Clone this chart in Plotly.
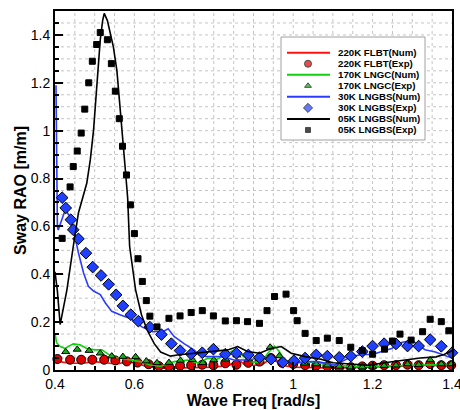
import plotly.graph_objects as go

# ---- sway RAO data: frequency [rad/s] and RAO [m/m] ----
# 220K FLBT
flbt_num_f = [0.400, 0.410, 0.438, 0.472, 0.497, 0.527, 0.557, 0.581, 0.606, 0.632, 0.666, 0.700,
              0.750, 0.800, 0.840, 0.860, 0.880, 0.920, 0.950, 0.970, 1.000, 1.050, 1.100, 1.150,
              1.200, 1.250, 1.300, 1.350, 1.400]
flbt_num_v = [0.042, 0.035, 0.028, 0.028, 0.035, 0.031, 0.025, 0.035, 0.028, 0.014, 0.007, 0.008,
              0.010, 0.012, 0.020, 0.045, 0.020, 0.020, 0.055, 0.020, 0.012, 0.010, 0.008, 0.010,
              0.012, 0.015, 0.015, 0.020, 0.018]
flbt_exp_f = [0.406, 0.438, 0.466, 0.494, 0.524, 0.552, 0.581, 0.608, 0.636, 0.662, 0.687, 0.715,
              0.743, 0.771, 0.799, 0.829, 0.857, 0.887, 0.915, 0.944, 0.972, 1.000, 1.030, 1.058,
              1.086, 1.116, 1.145, 1.174, 1.200, 1.229, 1.259, 1.288, 1.316, 1.345, 1.373, 1.398]
flbt_exp_v = [0.046, 0.043, 0.043, 0.043, 0.043, 0.040, 0.036, 0.031, 0.024, 0.016, 0.015, 0.018,
              0.020, 0.022, 0.020, 0.028, 0.022, 0.030, 0.035, 0.050, 0.030, 0.025, 0.020, 0.018,
              0.015, 0.012, 0.012, 0.015, 0.018, 0.020, 0.020, 0.022, 0.020, 0.025, 0.020, 0.020]

# 170K LNGC
lngc_num_f = [0.400, 0.404, 0.413, 0.425, 0.446, 0.463, 0.480, 0.501, 0.518, 0.531, 0.543, 0.565,
              0.590, 0.615, 0.640, 0.666, 0.687, 0.700, 0.733, 0.763, 0.784, 0.809, 0.835, 0.856,
              0.873, 0.894, 0.919, 0.936, 0.953, 0.965, 0.978, 1.003, 1.037, 1.062, 1.105, 1.150,
              1.200, 1.250, 1.300, 1.350, 1.400]
lngc_num_v = [0.153, 0.114, 0.098, 0.090, 0.109, 0.105, 0.090, 0.084, 0.084, 0.070, 0.056, 0.049,
              0.042, 0.035, 0.021, 0.016, 0.028, 0.035, 0.042, 0.028, 0.049, 0.045, 0.070, 0.087,
              0.059, 0.035, 0.031, 0.070, 0.100, 0.077, 0.042, 0.028, 0.035, 0.028, 0.021, 0.014,
              0.015, 0.018, 0.020, 0.022, 0.020]
lngc_exp_f = [0.427, 0.456, 0.486, 0.514, 0.543, 0.571, 0.603, 0.630, 0.657, 0.687, 0.716, 0.746,
              0.772, 0.800, 0.830, 0.858, 0.887, 0.915, 0.942, 0.965, 0.999, 1.029, 1.058, 1.086,
              1.116, 1.145, 1.174, 1.200, 1.229, 1.259, 1.288, 1.316, 1.345, 1.373, 1.398]
lngc_exp_v = [0.076, 0.086, 0.081, 0.070, 0.058, 0.056, 0.055, 0.037, 0.030, 0.031, 0.040, 0.043,
              0.030, 0.042, 0.045, 0.062, 0.045, 0.056, 0.095, 0.059, 0.039, 0.028, 0.025, 0.020,
              0.015, 0.012, 0.012, 0.015, 0.018, 0.020, 0.025, 0.022, 0.042, 0.025, 0.025]

# 30K LNGBS
b30_num_f = [0.4025, 0.404, 0.406, 0.408, 0.417, 0.424, 0.430, 0.438, 0.450, 0.459, 0.472, 0.484,
             0.497, 0.514, 0.527, 0.543, 0.565, 0.590, 0.619, 0.645, 0.674, 0.685, 0.700, 0.725,
             0.750, 0.763, 0.784, 0.820, 0.851, 0.885, 0.915, 0.944, 0.970, 1.000, 1.037, 1.062,
             1.105, 1.130, 1.147, 1.172, 1.200, 1.223, 1.248, 1.273, 1.300, 1.310, 1.332, 1.358,
             1.383, 1.400]
b30_num_v = [1.190, 0.850, 0.600, 0.585, 0.630, 0.660, 0.660, 0.640, 0.560, 0.490, 0.405, 0.350,
             0.330, 0.315, 0.280, 0.245, 0.230, 0.215, 0.180, 0.160, 0.162, 0.172, 0.140, 0.110,
             0.084, 0.063, 0.056, 0.056, 0.042, 0.042, 0.050, 0.042, 0.030, 0.030, 0.035, 0.035,
             0.020, 0.042, 0.056, 0.065, 0.065, 0.077, 0.090, 0.115, 0.124, 0.110, 0.085, 0.075,
             0.062, 0.050]
b30_exp_f = [0.418, 0.427, 0.440, 0.446, 0.459, 0.478, 0.495, 0.516, 0.535, 0.554, 0.571, 0.591,
             0.610, 0.639, 0.668, 0.693, 0.715, 0.743, 0.771, 0.799, 0.829, 0.857, 0.887, 0.915,
             0.944, 0.974, 1.002, 1.030, 1.058, 1.086, 1.116, 1.145, 1.174, 1.200, 1.229, 1.259,
             1.288, 1.316, 1.345, 1.373, 1.400]
b30_exp_v = [0.720, 0.677, 0.628, 0.586, 0.548, 0.488, 0.430, 0.395, 0.358, 0.314, 0.268, 0.231,
             0.204, 0.179, 0.148, 0.110, 0.081, 0.067, 0.072, 0.087, 0.066, 0.070, 0.063, 0.052,
             0.045, 0.032, 0.039, 0.050, 0.063, 0.058, 0.053, 0.058, 0.077, 0.100, 0.110, 0.109,
             0.100, 0.100, 0.127, 0.099, 0.072]

# 05K LNGBS
b05_num_f = [0.400, 0.406, 0.413, 0.419, 0.430, 0.446, 0.459, 0.480, 0.489, 0.497, 0.505, 0.514,
             0.520, 0.524, 0.532, 0.540, 0.547, 0.556, 0.563, 0.570, 0.577, 0.583, 0.588, 0.603,
             0.618, 0.632, 0.650, 0.666, 0.691, 0.708, 0.750, 0.792, 0.835, 0.860, 0.885, 0.915,
             0.944, 0.970, 0.995, 1.030, 1.070, 1.100, 1.150, 1.190, 1.230, 1.270, 1.320, 1.360,
             1.380, 1.400]
b05_num_v = [0.410, 0.330, 0.190, 0.240, 0.335, 0.516, 0.656, 0.780, 0.879, 1.000, 1.200, 1.380,
             1.460, 1.490, 1.460, 1.400, 1.350, 1.250, 1.120, 1.000, 0.840, 0.720, 0.516, 0.335,
             0.230, 0.167, 0.110, 0.075, 0.058, 0.063, 0.070, 0.077, 0.084, 0.098, 0.077, 0.070,
             0.090, 0.098, 0.070, 0.056, 0.045, 0.030, 0.025, 0.020, 0.030, 0.040, 0.050, 0.055,
             0.065, 0.080]
b05_exp_f = [0.418, 0.438, 0.446, 0.456, 0.466, 0.475, 0.485, 0.494, 0.505, 0.514, 0.532, 0.542,
             0.552, 0.562, 0.570, 0.580, 0.590, 0.600, 0.609, 0.620, 0.630, 0.639, 0.657, 0.687,
             0.715, 0.743, 0.771, 0.799, 0.829, 0.857, 0.885, 0.915, 0.934, 0.953, 0.982, 1.001,
             1.010, 1.030, 1.058, 1.086, 1.116, 1.145, 1.174, 1.200, 1.230, 1.250, 1.269, 1.297,
             1.326, 1.345, 1.373, 1.392]
b05_exp_v = [0.550, 0.765, 0.850, 0.915, 0.990, 1.090, 1.200, 1.290, 1.360, 1.410, 1.380, 1.280,
             1.165, 1.050, 0.935, 0.815, 0.690, 0.570, 0.465, 0.370, 0.290, 0.225, 0.180, 0.216,
             0.226, 0.240, 0.248, 0.226, 0.205, 0.206, 0.202, 0.195, 0.248, 0.307, 0.317, 0.248,
             0.206, 0.153, 0.123, 0.133, 0.123, 0.095, 0.081, 0.066, 0.087, 0.121, 0.150, 0.125,
             0.160, 0.212, 0.202, 0.164]

x_ticks = [0.4, 0.6, 0.8, 1.0, 1.2, 1.4]
x_tick_text = ["0.4", "0.6", "0.8", "1", "1.2", "1.4"]
y_ticks = [0, 0.2, 0.4, 0.6, 0.8, 1.0, 1.2, 1.4]
y_tick_text = ["0", "0.2", "0.4", "0.6", "0.8", "1", "1.2", "1.4"]
grid_step = 0.05

legend_names = ["220K FLBT(Num)", "220K FLBT(Exp)", "170K LNGC(Num)", "170K LNGC(Exp)",
                "30K LNGBS(Num)", "30K LNGBS(Exp)", "05K LNGBS(Num)", "05K LNGBS(Exp)"]

RED, GREEN, BLUE, BLACK = "#ff1010", "#10d010", "#2b3cff", "#000000"
GRID = "#c4c4c4"
FONT = "Liberation Sans, Arial, sans-serif"

# style per legend entry: (kind, colour, symbol, plot size, fill, legend size)
styles = [
    ("line", RED, None, None, None, None),
    ("marker", RED, "circle", 9, "#e00000", 7),
    ("line", GREEN, None, None, None, None),
    ("marker", GREEN, "triangle-up", 7, "#10b010", 6),
    ("line", BLUE, None, None, None, None),
    ("marker", BLUE, "diamond", 9, "#2040ff", 7),
    ("line", BLACK, None, None, None, None),
    ("marker", BLACK, "square", 6, "#000000", 5),
]
series = [(flbt_num_f, flbt_num_v), (flbt_exp_f, flbt_exp_v),
          (lngc_num_f, lngc_num_v), (lngc_exp_f, lngc_exp_v),
          (b30_num_f, b30_num_v), (b30_exp_f, b30_exp_v),
          (b05_num_f, b05_num_v), (b05_exp_f, b05_exp_v)]

X_RANGE = [0.4, 1.4]
Y_RANGE = [0.0, 1.5]

fig = go.Figure()
for name, (f, v), (kind, col, sym, size, fill, _) in zip(legend_names, series, styles):
    if kind == "line":
        fig.add_trace(go.Scatter(x=f, y=v, mode="lines", name=name, showlegend=False,
                                 line=dict(color=col, width=1.6)))
    else:
        fig.add_trace(go.Scatter(x=f, y=v, mode="markers", name=name, showlegend=False,
                                 cliponaxis=False,
                                 marker=dict(symbol=sym, size=size, color=fill,
                                             line=dict(color="black", width=1))))

# ---- plot-area layout (pixels) ----
W, H = 460, 410
L, R, T, B = 55, 8, 11, 40
pw, ph = W - L - R, H - T - B


def px(xp):
    return (xp - L) / pw


def py(yp):
    return (H - B - yp) / ph


shapes = []

# dotted grid every 0.05 in both directions (behind everything)
nx = int(round((X_RANGE[1] - X_RANGE[0]) / grid_step))
for k in range(1, nx):
    gx = X_RANGE[0] + k * grid_step
    shapes.append(dict(type="line", xref="x", yref="paper", x0=gx, x1=gx, y0=0, y1=1,
                       line=dict(color=GRID, width=1, dash="dot"), layer="below"))
ny = int(round((Y_RANGE[1] - Y_RANGE[0]) / grid_step))
for k in range(1, ny):
    gy = Y_RANGE[0] + k * grid_step
    shapes.append(dict(type="line", xref="paper", yref="y", x0=0, x1=1, y0=gy, y1=gy,
                       line=dict(color=GRID, width=1, dash="dot"), layer="below"))

# ---- custom legend box ----
box_l, box_r, box_t, box_b = 281, 425, 37, 140
row0, row_dy = 52.7, 11.04
line_x0, line_x1, mark_x, text_x = 287, 330, 308, 336

shapes.append(dict(type="rect", xref="paper", yref="paper",
                   x0=px(box_l), x1=px(box_r), y0=py(box_b), y1=py(box_t),
                   line=dict(color="#a0a0a0", width=1), fillcolor="white", layer="below"))
annotations = []
mk_x, mk_y, mk_sym, mk_size, mk_fill = [], [], [], [], []
for i, (name, (kind, col, sym, size, fill, lsize)) in enumerate(zip(legend_names, styles)):
    yc = row0 + i * row_dy
    if kind == "line":
        shapes.append(dict(type="line", xref="paper", yref="paper",
                           x0=px(line_x0), x1=px(line_x1), y0=py(yc), y1=py(yc),
                           line=dict(color=col, width=2), layer="above"))
    else:
        mk_x.append(px(mark_x))
        mk_y.append(py(yc))
        mk_sym.append(sym)
        mk_size.append(lsize)
        mk_fill.append(fill)
    annotations.append(dict(x=px(text_x), y=py(yc), xref="paper", yref="paper",
                            text="<b>%s</b>" % name, showarrow=False,
                            xanchor="left", yanchor="middle",
                            font=dict(family=FONT, size=9.7, color="black")))

fig.add_trace(go.Scatter(x=mk_x, y=mk_y, mode="markers", xaxis="x2", yaxis="y2",
                         showlegend=False, hoverinfo="skip", cliponaxis=False,
                         marker=dict(symbol=mk_sym, size=mk_size, color=mk_fill,
                                     line=dict(color="black", width=1))))

minor = dict(dtick=grid_step, ticks="inside", ticklen=4, tickwidth=1.5, tickcolor="black",
             showgrid=False)

fig.update_layout(
    width=W, height=H,
    margin=dict(l=L, r=R, t=T, b=B),
    paper_bgcolor="white", plot_bgcolor="white",
    showlegend=False,
    font=dict(family=FONT, size=14, color="black"),
    shapes=shapes,
    annotations=annotations,
    xaxis=dict(range=X_RANGE, tickmode="array", tickvals=x_ticks, ticktext=x_tick_text,
               ticks="inside", ticklen=8, ticklabeloverflow="allow",
               tickwidth=1.5, tickcolor="black", showline=True, linecolor="black",
               linewidth=2, mirror=True, zeroline=False, automargin=False, showgrid=False,
               tickfont=dict(size=14), minor=minor,
               title=dict(text="<b>Wave Freq [rad/s]</b>", font=dict(size=16), standoff=4)),
    yaxis=dict(range=Y_RANGE, tickmode="array", tickvals=y_ticks, ticktext=y_tick_text,
               ticks="inside", ticklen=8, ticklabeloverflow="allow",
               tickwidth=1.5, tickcolor="black", showline=True, linecolor="black",
               linewidth=2, mirror=True, zeroline=False, automargin=False, showgrid=False,
               tickfont=dict(size=14), minor=minor,
               title=dict(text="<b>Sway RAO [m/m]</b>", font=dict(size=16), standoff=0)),
    xaxis2=dict(range=[0, 1], overlaying="x", visible=False, fixedrange=True,
                showgrid=False),
    yaxis2=dict(range=[0, 1], overlaying="y", visible=False, fixedrange=True,
                showgrid=False),
)

fig.write_html("out.html")
